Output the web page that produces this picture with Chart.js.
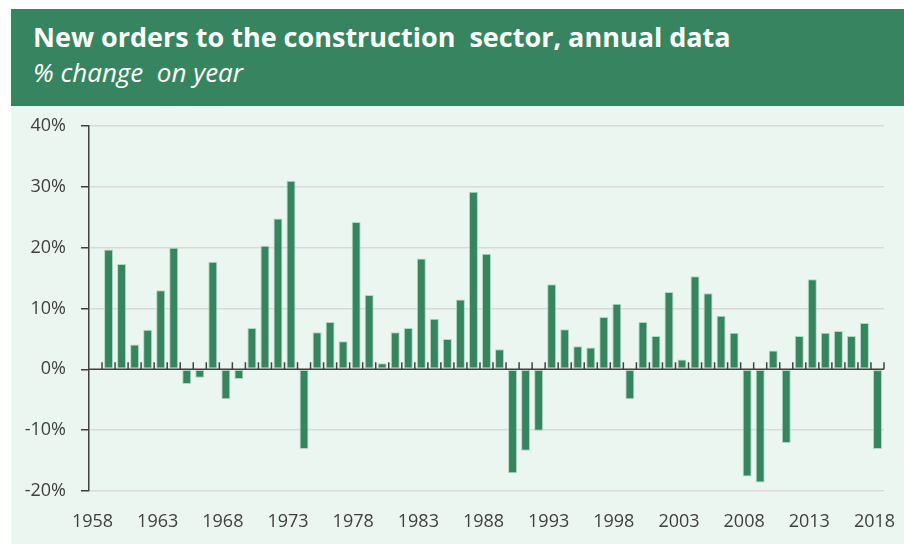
<!DOCTYPE html>
<html lang="en">
<head>
    <meta charset="UTF-8">
    <title>New orders to the construction sector</title>
    <script src="https://cdn.jsdelivr.net/npm/chart.js"></script>
    <style>
        body {
        margin: 0;
        background-color: #fff;
        font-family: "Open Sans", sans-serif;
        }
        .box {
        position: absolute;
        left: 11px;
        top: 9px;
        width: 893px;
        height: 535px;
        }
        .head {
        position: relative;
        height: 97px;
        background-color: #378560;
        color: #fff;
        }
        .title {
        position: absolute;
        left: 22px;
        top: 11px;
        font-size: 27px;
        font-weight: 700;
        line-height: 34px;
        white-space: pre;
        }
        .sub {
        position: absolute;
        left: 22px;
        top: 46px;
        font-size: 26px;
        font-style: italic;
        line-height: 34px;
        white-space: pre;
        }
        .plot {
        position: relative;
        width: 893px;
        height: 438px;
        background-color: #ECF6F0;
        }
    </style>
</head>
<body>
    <div class="box">
        <div class="head">
            <div class="title">New orders to the construction  sector, annual data</div>
            <div class="sub">% change  on year</div>
        </div>
        <div class="plot">
            <canvas id="ordersChart"></canvas>
        </div>
    </div>

    <script>
        const years = ['1958','1959','1960','1961','1962','1963','1964','1965','1966','1967',
            '1968','1969','1970','1971','1972','1973','1974','1975','1976','1977',
            '1978','1979','1980','1981','1982','1983','1984','1985','1986','1987',
            '1988','1989','1990','1991','1992','1993','1994','1995','1996','1997',
            '1998','1999','2000','2001','2002','2003','2004','2005','2006','2007',
            '2008','2009','2010','2011','2012','2013','2014','2015','2016','2017','2018'];

        // % change on year (1958 has no value)
        const orders = [null, 19.7, 17.3, 4.1, 6.5, 13.0, 20.0, -2.4, -1.4, 17.7,
            -4.9, -1.6, 6.8, 20.3, 24.8, 31.0, -13.1, 6.1, 7.8, 4.6,
            24.2, 12.2, 1.0, 6.1, 6.8, 18.2, 8.3, 5.0, 11.5, 29.2,
            19.0, 3.3, -17.1, -13.4, -10.1, 14.0, 6.6, 3.8, 3.6, 8.6,
            10.8, -4.9, 7.8, 5.5, 12.7, 1.6, 15.3, 12.5, 8.8, 6.0,
            -17.6, -18.6, 3.1, -12.1, 5.5, 14.8, 6.0, 6.3, 5.5, 7.6, -13.1];

        const yearTicks = ['1958','1963','1968','1973','1978','1983','1988','1993','1998','2003','2008','2013','2018'];

        const dark = '#404040';

        // zero line with small upward ticks between the years
        const zeroAxis = {
        id: 'zeroAxis',
        afterDatasetsDraw(chart) {
            const c = chart.ctx, xs = chart.scales.x, ys = chart.scales.y;
            const y0 = ys.getPixelForValue(0);
            const area = chart.chartArea;
            c.save();
            c.strokeStyle = dark;
            c.lineWidth = 1.5;
            c.beginPath();
            c.moveTo(area.left, y0);
            c.lineTo(area.right, y0);
            const half = (xs.getPixelForValue(1) - xs.getPixelForValue(0)) / 2;
            for (let i = 0; i < years.length; i++) {
            const px = xs.getPixelForValue(i) + half;
            c.moveTo(px, y0);
            c.lineTo(px, y0 - 7);
            }
            c.stroke();
            c.restore();
        }
        };

        const ctx = document.getElementById('ordersChart').getContext('2d');
        new Chart(ctx, {
        type: 'bar',
        data: {
            labels: years,
            datasets: [{
            data: orders,
            backgroundColor: '#368560',
            borderColor: 'rgba(160, 210, 180, 0.8)',
            borderWidth: 1,
            borderSkipped: false,
            barPercentage: 0.69,
            categoryPercentage: 1.0
            }]
        },
        options: {
            responsive: true,
            maintainAspectRatio: false,
            animation: false,
            layout: { padding: { top: 20, right: 20, left: 0, bottom: 0 } },
            plugins: {
            legend: { display: false },
            tooltip: { enabled: false }
            },
            scales: {
            x: {
                grid: { display: false, drawTicks: false },
                border: { display: false },
                ticks: {
                autoSkip: false,
                maxRotation: 0,
                padding: 20,
                labelOffset: -3,
                color: dark,
                font: { family: 'Open Sans', size: 18 },
                callback: function (v) {
                    const lab = this.getLabelForValue(v);
                    return yearTicks.includes(lab) ? lab : '';
                }
                },
                afterFit(s) {
                s.height = 53;
                s.paddingLeft = 0;
                s.paddingRight = 0;
                }
            },
            y: {
                min: -20,
                max: 40,
                ticks: {
                stepSize: 10,
                padding: 15,
                color: dark,
                font: { family: 'Open Sans', size: 18 },
                callback: v => v + '%'
                },
                grid: {
                color: c => c.tick && c.tick.value === 0 ? 'rgba(0,0,0,0)' : '#D9D9D9',
                lineWidth: 1.5,
                tickColor: dark,
                tickLength: 8
                },
                border: { display: true, color: dark, width: 1.5 },
                afterFit(s) {
                s.width = 78;
                s.paddingTop = 0;
                s.paddingBottom = 0;
                }
            }
            }
        },
        plugins: [zeroAxis]
        });
    </script>
</body>
</html>
